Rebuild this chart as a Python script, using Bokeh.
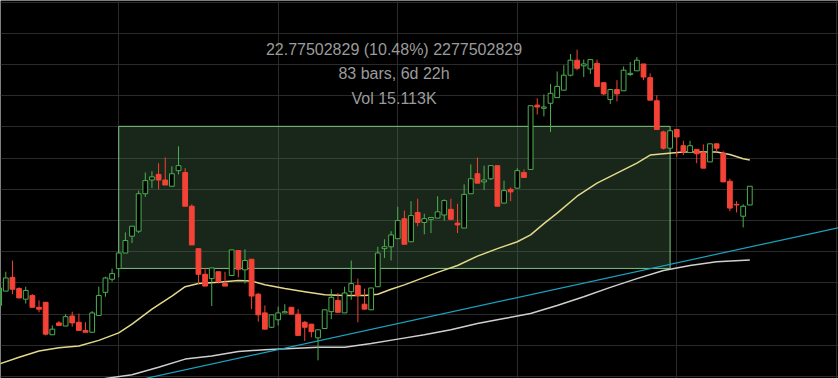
from bokeh.plotting import figure
from bokeh.models import ColumnDataSource, FixedTicker, Label, Range1d
from bokeh.embed import file_html
from bokeh.resources import INLINE

# ---------------- data (2h bars, index 0..113) ----------------
opens = [211.4, 213.7, 215.9, 214.1, 212.4, 213.0, 211.1, 211.9, 206.7, 208.6,
         208.1, 209.7, 208.7, 207.4, 207.1, 209.8, 213.5, 215.6, 217.3, 219.8,
         222.5, 223.3, 229.3, 231.5, 232.4, 231.5, 230.5, 233.0, 232.7, 227.3,
         220.5, 216.4, 215.7, 216.8, 214.9, 216.2, 220.2, 217.1, 218.8, 213.2,
         210.2, 207.9, 209.1, 210.2, 211.1, 210.0, 208.7, 208.4, 206.2, 207.7,
         210.4, 212.2, 210.2, 213.6, 214.6, 211.6, 210.7, 214.4, 220.5, 220.8,
         222.1, 225.3, 221.6, 226.3, 224.7, 225.2, 225.4, 225.9, 226.8, 224.6,
         223.8, 229.3, 232.5, 231.2, 231.7, 233.8, 227.8, 230.0, 230.2, 232.7,
         233.2, 243.5, 243.0, 243.8, 244.7, 245.9, 248.3, 250.7, 249.8, 249.3,
         250.2, 247.1, 244.4, 246.0, 245.8, 248.4, 249.0, 250.1, 247.9, 244.2,
         239.2, 236.6, 239.6, 237.0, 235.9, 236.4, 235.9, 234.4, 237.3, 235.8,
         231.3, 227.6, 225.7, 227.5]
closes = [214.2, 215.8, 214.0, 212.6, 213.8, 211.1, 210.8, 206.8, 207.6, 208.2,
          209.6, 208.6, 207.4, 207.1, 210.2, 213.0, 215.8, 216.5, 219.8, 221.8,
          224.1, 229.3, 231.4, 232.0, 231.5, 230.7, 232.5, 233.8, 227.3, 221.1,
          216.4, 214.5, 217.4, 215.2, 214.5, 220.3, 217.2, 218.6, 212.9, 209.9,
          207.6, 209.9, 210.2, 210.4, 210.0, 206.6, 207.9, 207.2, 207.5, 210.7,
          212.7, 210.3, 213.4, 214.9, 213.0, 210.8, 214.2, 219.8, 220.8, 222.7,
          225.0, 221.2, 225.8, 224.7, 225.3, 225.5, 226.4, 228.2, 225.2, 224.3,
          229.2, 231.7, 231.0, 231.5, 233.8, 227.3, 229.8, 229.6, 233.0, 231.9,
          243.4, 243.2, 243.2, 245.4, 246.5, 248.3, 250.7, 249.4, 250.1, 250.8,
          246.5, 245.3, 246.0, 245.3, 249.1, 248.6, 250.7, 248.0, 244.3, 239.6,
          236.6, 239.4, 238.4, 236.0, 237.0, 235.7, 233.4, 237.3, 236.6, 231.2,
          227.0, 227.5, 227.3, 230.5]
highs = [214.6, 216.8, 218.6, 214.3, 214.4, 213.2, 212.2, 211.9, 208.2, 208.9,
         210.0, 210.4, 210.1, 208.7, 210.5, 214.4, 216.0, 217.3, 219.8, 223.1,
         224.1, 229.8, 232.7, 232.9, 234.2, 235.1, 233.7, 236.9, 233.4, 227.6,
         220.5, 217.4, 217.4, 216.8, 216.8, 220.3, 220.2, 220.4, 218.8, 213.4,
         211.4, 209.9, 211.2, 211.6, 211.1, 210.8, 208.9, 208.4, 207.5, 210.7,
         214.0, 213.4, 214.4, 218.6, 215.7, 214.1, 214.2, 220.8, 222.0, 223.3,
         227.2, 226.6, 228.1, 228.5, 226.1, 225.5, 228.9, 228.4, 228.5, 227.7,
         230.8, 234.0, 235.1, 233.8, 233.8, 233.8, 231.4, 230.3, 233.4, 233.2,
         243.4, 244.6, 245.2, 246.9, 248.9, 249.9, 251.7, 252.4, 250.8, 250.8,
         250.8, 247.1, 246.0, 247.5, 249.7, 250.4, 251.2, 250.1, 248.6, 245.1,
         239.4, 239.4, 239.6, 237.8, 237.8, 236.4, 237.2, 237.3, 237.3, 236.1,
         231.7, 228.1, 227.6, 230.5]
lows = [211.2, 213.7, 213.2, 212.6, 211.7, 211.1, 210.3, 206.6, 206.7, 208.2,
        208.1, 208.0, 207.4, 207.1, 207.1, 209.8, 212.8, 215.2, 215.9, 219.8,
        221.4, 223.0, 228.8, 230.2, 230.0, 230.7, 230.5, 232.4, 227.3, 221.1,
        214.8, 214.5, 211.3, 214.9, 214.5, 216.2, 215.9, 214.9, 210.8, 208.8,
        207.6, 207.8, 208.2, 210.2, 210.0, 206.6, 205.7, 206.3, 202.6, 207.7,
        209.2, 210.3, 210.2, 212.3, 208.7, 210.8, 210.7, 214.4, 219.0, 218.6,
        222.1, 221.2, 221.6, 224.1, 222.8, 223.0, 225.4, 225.0, 225.1, 223.0,
        223.8, 229.3, 231.0, 229.9, 231.5, 227.3, 227.8, 228.1, 230.2, 231.9,
        233.2, 242.0, 241.7, 239.2, 244.7, 245.9, 248.1, 249.1, 248.0, 248.5,
        246.4, 245.1, 243.7, 244.1, 245.8, 248.2, 249.0, 247.5, 244.3, 239.6,
        236.4, 236.6, 235.2, 235.5, 235.9, 234.2, 233.4, 234.4, 236.0, 231.2,
        226.5, 226.3, 223.9, 227.5]
bars = list(range(len(opens)))

# moving averages (at selected bars)
ma_fast_bar = [0, 3, 6, 9, 12, 15, 18, 20, 23, 26, 28, 30, 33, 36, 38, 40, 43, 46,
               49, 52, 55, 57, 59, 61, 63, 66, 69, 72, 75, 78, 80, 82, 84, 87, 90,
               93, 96, 98, 100, 103, 106, 108, 110, 112, 113]
ma_fast = [202.0, 203.1, 204.1, 204.6, 204.9, 205.8, 207.0, 208.4, 210.8, 212.9,
           214.4, 214.9, 215.1, 215.4, 215.3, 214.7, 214.1, 213.6, 213.1, 213.0,
           213.0, 213.2, 214.0, 214.7, 215.5, 216.7, 217.8, 219.3, 220.5, 221.6,
           222.7, 224.5, 226.2, 228.9, 231.0, 232.6, 234.2, 235.5, 235.7, 236.0,
           236.0, 236.0, 235.6, 234.9, 234.7]
ma_slow_bar = [14, 16, 20, 24, 28, 32, 36, 40, 44, 48, 52, 56, 60, 64, 68, 72, 76,
               80, 84, 88, 92, 96, 100, 104, 108, 113]
ma_slow = [199.2, 199.7, 200.3, 201.5, 202.8, 203.3, 204.0, 204.3, 204.5, 204.7,
           204.7, 205.3, 206.0, 206.7, 207.5, 208.5, 209.3, 210.1, 211.4, 212.8,
           214.3, 215.7, 217.0, 217.8, 218.4, 218.7]

trend_bar = [0, 130]
trend_price = [194.6, 224.7]

measure_bar = [18, 101]
measure_price = [217.33, 240.10]
measure_text = ["22.77502829 (10.48%) 2277502829", "83 bars, 6d 22h", "Vol 15.113K"]

GREEN = "#4caf50"
RED = "#f44336"

up = [i for i in bars if closes[i] >= opens[i]]
dn = [i for i in bars if closes[i] < opens[i]]

def src(idx):
    return ColumnDataSource(dict(
        x=[bars[i] for i in idx],
        hi=[highs[i] for i in idx],
        lo=[lows[i] for i in idx],
        top=[max(opens[i], closes[i]) for i in idx],
        bot=[min(opens[i], closes[i]) for i in idx],
    ))

p = figure(width=838, height=378, output_backend="svg", toolbar_location=None,
           x_range=Range1d(0.2017, 126.35), y_range=Range1d(199.69, 260.27),
           x_axis_location=None, y_axis_location=None, min_border=0,
           background_fill_color="#000000", border_fill_color="#000000")
p.outline_line_color = None
p.xgrid.ticker = FixedTicker(ticks=[18, 42, 60, 78, 102, 126])
p.ygrid.ticker = FixedTicker(ticks=list(range(200, 261, 5)))
p.grid.grid_line_color = "#2a2a2a"
p.grid.grid_line_width = 1

# measure rectangle
p.quad(left=[measure_bar[0]], right=[measure_bar[1]],
       bottom=[measure_price[0]], top=[measure_price[1]],
       fill_color="#4b7550", fill_alpha=0.33, line_color="#7cc47f", line_width=1)

# moving averages & trend line
p.line(ma_slow_bar, ma_slow, line_color="#cfcfcf", line_width=1.5)
p.line(ma_fast_bar, ma_fast, line_color="#e3d98a", line_width=1.5)
p.line(trend_bar, trend_price, line_color="#1aa3bf", line_width=1.2)

# candles
su, sd = src(up), src(dn)
p.segment(x0="x", y0="lo", x1="x", y1="hi", source=su, line_color=GREEN, line_width=1)
p.vbar(x="x", width=0.72, top="top", bottom="bot", source=su,
       fill_color="#000000", line_color=GREEN, line_width=1)
p.segment(x0="x", y0="lo", x1="x", y1="hi", source=sd, line_color=RED, line_width=1)
p.vbar(x="x", width=0.72, top="top", bottom="bot", source=sd,
       fill_color=RED, line_color=RED, line_width=1)

for txt, ys in zip(measure_text, [329, 305, 280.5]):
    p.add_layout(Label(x=393.5, y=ys, x_units="screen", y_units="screen", text=txt,
                       text_align="center", text_baseline="middle",
                       text_font="Liberation Sans", text_font_size="16px",
                       text_color="#9b9b9b"))

open("out.html", "w").write(file_html(p, INLINE))
